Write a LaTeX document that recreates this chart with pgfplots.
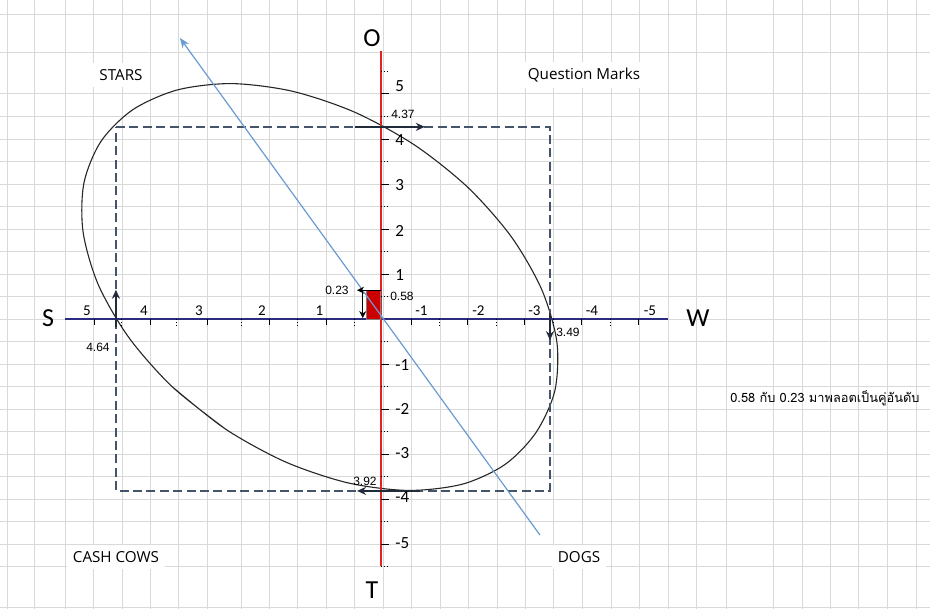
\documentclass[border=0pt]{standalone}
\usepackage{fontspec}
\setmainfont{Carlito}
\newfontfamily\quadfont{Open Sans}
\newfontfamily\valfont{Liberation Sans}
\newfontfamily\thaifont[Script=Thai]{Loma}
\usepackage{pgfplots}
\pgfplotsset{compat=1.18}
\usetikzlibrary{arrows.meta}
\definecolor{gridgray}{HTML}{D9D9D9}
\definecolor{axnavy}{HTML}{2B2B80}
\definecolor{axred}{HTML}{E02424}
\definecolor{boxblue}{HTML}{44546A}
\definecolor{linblue}{HTML}{6A9BD1}
\definecolor{sqred}{HTML}{CC0000}
\definecolor{arrdark}{HTML}{222B3A}

\begin{document}
\begin{tikzpicture}
\begin{axis}[
    scale only axis, width=465pt, height=304.5pt,
    x dir=reverse,
    xmin=-9.632, xmax=6.684, ymin=-6.444, ymax=7.089,
    axis line style={draw=none},
    major tick length=0pt,
    xticklabels={}, yticklabels={},
    xtick={6.56,6.07,5.54,5.05,4.54,4.05,3.56,3.05,2.44,1.95,1.46,0.95,0.46,-0.04,-0.54,-1.04,-1.53,-2.04,-2.53,-3.02,-3.53,-4.04,-4.53,-5.04,-5.54,-6.07,-6.88,-7.39,-7.88,-8.37,-8.88,-9.39},
    ytick={6.76,5.93,5,4.5,4,3.5,3,2.5,2,1.5,1,0.5,0,-0.5,-1,-1.5,-2,-2.5,-3,-3.5,-4,-4.5,-5,-5.5,-6.4},
    grid=major,
    grid style={gridgray, line width=0.5pt},
]
% ellipse, points; the last segment repeats the first
\addplot[black!85, line width=0.55pt, smooth] coordinates {
    (2.726,-2.447) (3.665,-1.502) (4.426,-0.407) (4.960,0.764)
    (5.226,1.933) (5.212,3.018) (4.914,3.944) (4.354,4.651)
    (3.570,5.091) (2.618,5.231) (1.558,5.062) (0.465,4.598)
    (-0.586,3.869) (-1.525,2.924) (-2.286,1.829) (-2.819,0.658)
    (-3.086,-0.511) (-3.05,-1.596) (-2.72,-2.522) (-2.18,-3.229)
    (-1.430,-3.669) (-0.477,-3.809) (0.582,-3.640) (1.675,-3.176)
    (2.726,-2.447) (3.665,-1.502)
};
% dashed box
\addplot[boxblue, line width=1.25pt, dash pattern=on 4.5pt off 2.2pt] coordinates {
    (4.65,4.27) (-2.965,4.27) (-2.965,-3.82) (4.65,-3.82) (4.65,4.27)
};
% x axis and y axis
\addplot[axnavy, line width=1pt] coordinates {(5.544,0) (-5.035,0)};
\addplot[axred, line width=1pt] coordinates {(0,5.96) (0,-5.49)};
% red square
\addplot[draw=gray, fill=sqred, line width=0.5pt] coordinates {(0,0) (0.26,0) (0.26,0.63) (0,0.63) (0,0)};
% straight blue line
\addplot[linblue, line width=0.6pt, -{Stealth[length=5pt,width=4pt]}] coordinates {(-2.789,-4.8) (3.526,6.244)};
% arrows at the crossings
\addplot[arrdark, line width=1.1pt, -{Stealth[length=4.5pt,width=4pt]}] coordinates {(0.46,4.27) (-0.77,4.27)};
\addplot[arrdark, line width=1.1pt, -{Stealth[length=4.5pt,width=4pt]}] coordinates {(-0.68,-3.82) (0.42,-3.82)};
\addplot[arrdark, line width=1.1pt, -{Stealth[length=4.5pt,width=4pt]}] coordinates {(4.65,-0.18) (4.65,0.65)};
\addplot[arrdark, line width=1.1pt, -{Stealth[length=4.5pt,width=4pt]}] coordinates {(-2.965,0.13) (-2.965,-0.47)};
\addplot[black, line width=0.6pt, -{Stealth[length=3.5pt,width=3.5pt]}] coordinates {(0,0.64) (0.42,0.64)};
\addplot[black, line width=0.6pt, -{Stealth[length=3.5pt,width=3.5pt]}] coordinates {(0.32,0.64) (0.32,0.02)};

% ticks on the x axis
\pgfplotsinvokeforeach{0.95,1.96,3.05,4.04,5.03,-0.544,-1.526,-2.526,-3.526,-4.526}{
    \draw[black, line width=0.5pt] (axis cs:#1,0) -- ++(0pt,-3pt);
}
\pgfplotsinvokeforeach{0.456,1.456,2.439,3.579,4.544,-1.035,-2.035,-3.018,-4.035}{
    \draw[black, line width=0.5pt, dash pattern=on 0.6pt off 0.8pt] (axis cs:#1,0) -- ++(0pt,-3pt);
}
% ticks on the y axis
\pgfplotsinvokeforeach{5,4,3,2,1,-1,-2,-3,-4,-5}{
    \draw[black, line width=0.5pt] (axis cs:0,#1) -- ++(4pt,0pt);
}
\pgfplotsinvokeforeach{5.5,4.5,3.5,2.5,1.5,0.5,-0.5,-1.5,-2.5,-3.5,-4.5,-5.5}{
    \draw[black, line width=0.5pt, dash pattern=on 0.6pt off 0.8pt] (axis cs:0,#1) -- ++(4pt,0pt);
}

% tick labels
\pgfplotsforeachungrouped \xv/\lab in {5.158/5,4.158/4,3.193/3,2.088/2,1.079/1,-0.711/-1,-1.711/-2,-2.693/-3,-3.702/-4,-4.719/-5}{
    \edef\tmp{\noexpand\node[anchor=south, inner sep=0pt, font=\noexpand\fontsize{7.5}{8}\noexpand\selectfont] at (axis cs:\xv,0.07) {\lab};}\tmp
}
\pgfplotsforeachungrouped \yv/\lab in {5.17/5,3.97/4,2.98/3,1.95/2,0.98/1,-1.02/-1,-2/-2,-2.98/-3,-3.95/-4,-4.98/-5}{
    \edef\tmp{\noexpand\node[anchor=west, inner sep=0pt, font=\noexpand\fontsize{8.5}{9}\noexpand\selectfont] at (axis cs:-0.246,\yv) {\lab};}\tmp
}

% axis letters
\node[font=\fontsize{13}{14}\selectfont] at (axis cs:0.158,6.244) {O};
\node[font=\fontsize{13}{14}\selectfont] at (axis cs:0.158,-6.02) {T};
\node[font=\fontsize{13}{14}\selectfont] at (axis cs:5.842,0.02) {S};
\node[font=\fontsize{13}{14}\selectfont] at (axis cs:-5.561,0.02) {W};

% quadrant names
\node[font=\quadfont\fontsize{7.6}{9}\selectfont, fill=white, inner sep=3pt] at (axis cs:4.561,5.422) {STARS};
\node[font=\quadfont\fontsize{7.6}{9}\selectfont, fill=white, inner sep=3pt] at (axis cs:-3.561,5.422) {Question Marks};
\node[font=\quadfont\fontsize{7.6}{9}\selectfont, fill=white, inner sep=3pt] at (axis cs:4.649,-5.289) {CASH COWS};
\node[font=\quadfont\fontsize{7.6}{9}\selectfont, fill=white, inner sep=3pt] at (axis cs:-3.474,-5.289) {DOGS};

% values
\node[font=\valfont\fontsize{6}{7}\selectfont, inner sep=0pt] at (axis cs:-0.386,4.556) {4.37};
\node[font=\valfont\fontsize{6}{7}\selectfont, inner sep=0pt] at (axis cs:0.281,-3.6) {3.92};
\node[font=\valfont\fontsize{6}{7}\selectfont, inner sep=0pt] at (axis cs:4.965,-0.622) {4.64};
\node[font=\valfont\fontsize{6}{7}\selectfont, inner sep=0pt] at (axis cs:-3.281,-0.289) {3.49};
\node[font=\valfont\fontsize{6}{7}\selectfont, inner sep=0pt] at (axis cs:0.772,0.644) {0.23};
\node[font=\valfont\fontsize{6}{7}\selectfont, inner sep=0pt] at (axis cs:-0.368,0.511) {0.58};

% note
\node[font=\thaifont\fontsize{6.4}{8}\selectfont, inner sep=0pt] at (axis cs:-7.789,-1.756) {0.58 กับ 0.23 มาพลอตเป็นคู่อันดับ};

\coordinate (bbsw) at (rel axis cs:0,0);
\coordinate (bbne) at (rel axis cs:1,1);
\end{axis}
\pgfresetboundingbox
\path (bbsw) rectangle (bbne);
\end{tikzpicture}
\end{document}
